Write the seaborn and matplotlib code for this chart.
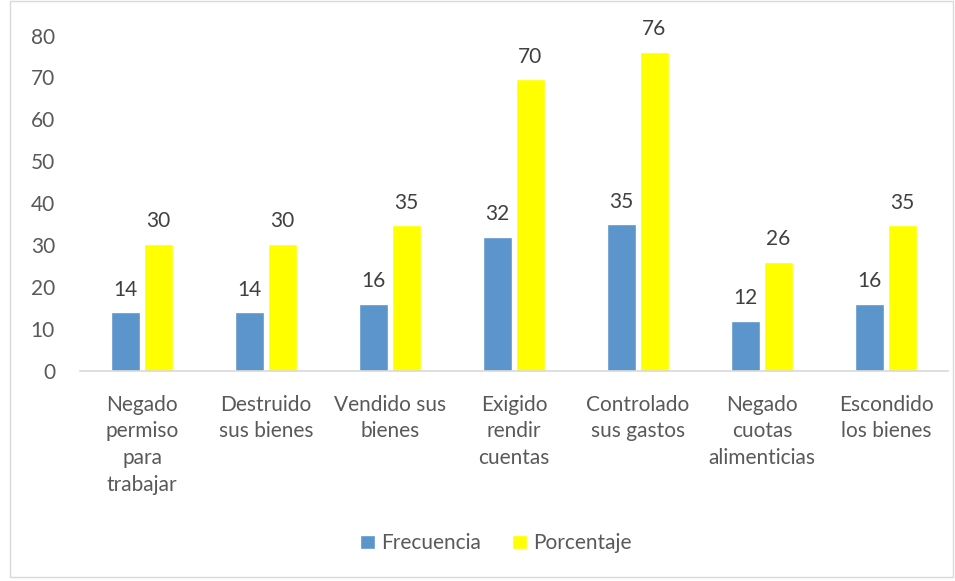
import pandas as pd
import matplotlib.pyplot as plt
import seaborn as sns
from matplotlib.patches import Rectangle

categorias = ["Negado\npermiso\npara\ntrabajar", "Destruido\nsus bienes", "Vendido sus\nbienes",
              "Exigido\nrendir\ncuentas", "Controlado\nsus gastos", "Negado\ncuotas\nalimenticias",
              "Escondido\nlos bienes"]
frecuencia = [14, 14, 16, 32, 35, 12, 16]
porcentaje = [30.4, 30.4, 34.8, 69.6, 76.1, 26.1, 34.8]
series = ["Frecuencia", "Porcentaje"]
colores = ["#5B95CC", "#FFFF00"]

df = pd.DataFrame({
    "cat": categorias * 2,
    "serie": [series[0]] * 7 + [series[1]] * 7,
    "valor": frecuencia + porcentaje,
})

sns.set_style("white")
plt.rcParams["font.family"] = ["Lato", "DejaVu Sans"]
gris = "#595959"
fs = 15

fig = plt.figure(figsize=(9.55, 5.81), dpi=100)
ax = fig.add_axes([80 / 955, 210 / 581, 868 / 955, 335.5 / 581])

sns.barplot(data=df, x="cat", y="valor", hue="serie", palette=colores, saturation=1,
            width=0.53, gap=0.14, ax=ax, legend=True)

# etiquetas de valor
for cont in ax.containers:
    for bar in cont:
        h = bar.get_height()
        ax.annotate(f"{h:.0f}", (bar.get_x() + bar.get_width() / 2, h),
                    xytext=(0, 9), textcoords="offset points",
                    ha="center", va="bottom", fontsize=fs, color="#404040")

ax.set_ylim(0, 80)
ax.set_yticks(range(0, 81, 10))
ax.set_xlim(-0.5, 6.5)
ax.set_xlabel("")
ax.set_ylabel("")
for s in ["top", "right", "left"]:
    ax.spines[s].set_visible(False)
ax.spines["bottom"].set_color("#D9D9D9")
ax.spines["bottom"].set_linewidth(1.2)
ax.tick_params(axis="y", length=0, labelsize=fs, labelcolor=gris, pad=18)
ax.tick_params(axis="x", length=0, labelsize=fs, labelcolor=gris, pad=17)
for t in ax.get_xticklabels():
    t.set_linespacing(1.42)

ax.legend(loc="center", bbox_to_anchor=(0.479, -0.513), ncol=2, frameon=False,
          fontsize=fs, labelcolor=gris, handlelength=0.7, handleheight=0.7,
          columnspacing=1.5, handletextpad=0.3)

fig.patches.append(Rectangle((10 / 955, 4 / 581), 943 / 955, 576 / 581,
                             transform=fig.transFigure, fill=False,
                             edgecolor="#D9D9D9", linewidth=1))

fig.savefig("out.png", dpi=100)
